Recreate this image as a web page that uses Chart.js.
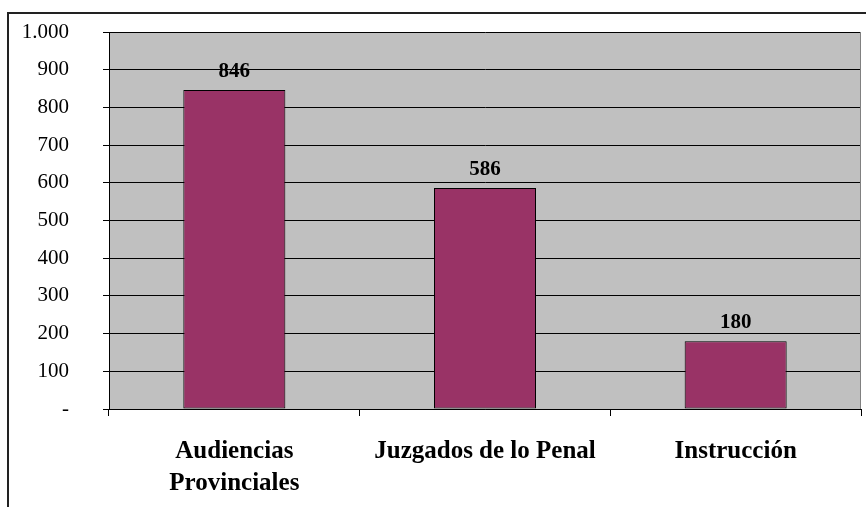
<!DOCTYPE html>
<html>
<head>
<meta charset="utf-8">
<script src="https://cdn.jsdelivr.net/npm/chart.js@4"></script>
<style>
  html, body { margin: 0; padding: 0; background: #fff; overflow: hidden; }
  #frame { position: absolute; left: 7px; top: 12px; width: 1000px; height: 1000px; border-top: 2px solid #222; border-left: 2px solid #222; }
  #wrap { position: absolute; left: 0; top: 0; width: 866px; height: 507px; }
</style>
</head>
<body>
<div id="frame"></div>
<div id="wrap"><canvas id="chart" width="866" height="507"></canvas></div>
<script>
// Datos del gráfico
const categories = [['Audiencias', 'Provinciales'], 'Juzgados de lo Penal', 'Instrucción'];
const values = [846, 586, 180];
const yTicks = [0, 100, 200, 300, 400, 500, 600, 700, 800, 900, 1000];

const serif = "'Liberation Serif', 'Times New Roman', serif";

function formatTick(v) {
    if (v === 0) return '-';
    return String(v).replace(/\B(?=(\d{3})+(?!\d))/g, '.');
}

// Fondo gris del área de trazado y borde derecho
const plotBackground = {
    id: 'plotBackground',
    beforeDraw(chart) {
        const { ctx, chartArea: a } = chart;
        ctx.save();
        ctx.fillStyle = '#C0C0C0';
        ctx.fillRect(a.left, a.top, a.right - a.left, a.bottom - a.top);
        ctx.restore();
    },
    afterDraw(chart) {
        const { ctx, chartArea: a } = chart;
        ctx.save();
        ctx.strokeStyle = '#808080';
        ctx.lineWidth = 1;
        ctx.beginPath();
        ctx.moveTo(Math.round(a.right) - 0.5, a.top);
        ctx.lineTo(Math.round(a.right) - 0.5, a.bottom);
        ctx.stroke();
        ctx.restore();
    }
};

// Etiquetas de valor encima de cada barra
const valueLabels = {
    id: 'valueLabels',
    afterDatasetsDraw(chart) {
        const { ctx } = chart;
        const meta = chart.getDatasetMeta(0);
        ctx.save();
        ctx.font = 'bold 21px ' + serif;
        ctx.fillStyle = '#000';
        ctx.textAlign = 'center';
        ctx.textBaseline = 'alphabetic';
        meta.data.forEach((bar, i) => {
            ctx.fillText(String(values[i]), bar.x, bar.y - 13);
        });
        ctx.restore();
    }
};

new Chart(document.getElementById('chart'), {
    type: 'bar',
    data: {
        labels: categories,
        datasets: [{
            data: values,
            backgroundColor: '#993366',
            borderColor: '#000',
            borderWidth: 1,
            borderSkipped: false,
            barPercentage: 0.407,
            categoryPercentage: 1
        }]
    },
    options: {
        responsive: false,
        animation: false,
        devicePixelRatio: 1,
        layout: { padding: { top: 32, right: 5, left: 0, bottom: 0 } },
        plugins: {
            legend: { display: false },
            tooltip: { enabled: false }
        },
        scales: {
            y: {
                min: 0,
                max: 1000,
                afterBuildTicks(scale) {
                    scale.ticks = yTicks.map(v => ({ value: v }));
                },
                afterFit(scale) {
                    scale.width = 109;
                    scale.paddingTop = 0;
                    scale.paddingBottom = 0;
                },
                grid: { color: '#000', lineWidth: 1, tickLength: 6, tickColor: '#000' },
                border: { display: true, color: '#000', width: 1 },
                ticks: {
                    color: '#000',
                    padding: 34,
                    font: { family: serif, size: 21 },
                    callback: v => formatTick(v)
                }
            },
            x: {
                afterFit(scale) { scale.height = 98; },
                grid: { drawOnChartArea: false, drawTicks: true, tickLength: 7, tickColor: '#000', offset: true },
                border: { display: true, color: '#000', width: 1 },
                ticks: {
                    color: '#000',
                    padding: 20,
                    maxRotation: 0,
                    autoSkip: false,
                    font: { family: serif, size: 25, weight: 'bold', lineHeight: 1.28 }
                }
            }
        }
    },
    plugins: [plotBackground, valueLabels]
});
</script>
</body>
</html>
